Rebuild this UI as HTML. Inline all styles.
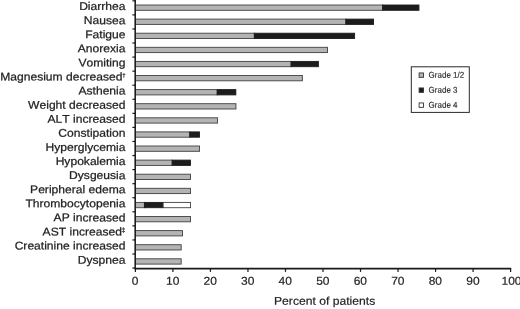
<!DOCTYPE html><html><head><meta charset="utf-8"><style>html,body{margin:0;padding:0;background:#fff}svg{display:block;will-change:transform}text{font-family:"Liberation Sans",sans-serif;fill:#222222;stroke:#222222;stroke-width:0.26px;font-kerning:none}</style></head><body>
<svg width="520" height="309" viewBox="0 0 520 309">
<rect width="520" height="309" fill="#fff"/>
<rect x="135.40" y="5.00" width="247.26" height="5.30" fill="#b4b4b4" stroke="#404040" stroke-width="0.9"/>
<rect x="382.66" y="5.00" width="36.29" height="5.30" fill="#1c1c1c" stroke="#1c1c1c" stroke-width="0.9"/>
<text transform="translate(125.50,10.05) rotate(0.03) scale(1,0.930)" font-size="12.10" text-anchor="end">Diarrhea</text>
<rect x="135.40" y="19.10" width="210.49" height="5.30" fill="#b4b4b4" stroke="#404040" stroke-width="0.9"/>
<rect x="345.89" y="19.10" width="27.66" height="5.30" fill="#1c1c1c" stroke="#1c1c1c" stroke-width="0.9"/>
<text transform="translate(125.50,24.14) rotate(0.03) scale(1,0.930)" font-size="12.10" text-anchor="end">Nausea</text>
<rect x="135.40" y="33.20" width="118.94" height="5.30" fill="#b4b4b4" stroke="#404040" stroke-width="0.9"/>
<rect x="254.34" y="33.20" width="100.27" height="5.30" fill="#1c1c1c" stroke="#1c1c1c" stroke-width="0.9"/>
<text transform="translate(125.50,38.23) rotate(0.03) scale(1,0.930)" font-size="12.10" text-anchor="end">Fatigue</text>
<rect x="135.40" y="47.30" width="192.10" height="5.30" fill="#b4b4b4" stroke="#404040" stroke-width="0.9"/>
<text transform="translate(125.50,52.32) rotate(0.03) scale(1,0.930)" font-size="12.10" text-anchor="end">Anorexia</text>
<rect x="135.40" y="61.40" width="155.71" height="5.30" fill="#b4b4b4" stroke="#404040" stroke-width="0.9"/>
<rect x="291.11" y="61.40" width="27.29" height="5.30" fill="#1c1c1c" stroke="#1c1c1c" stroke-width="0.9"/>
<text transform="translate(125.50,66.41) rotate(0.03) scale(1,0.930)" font-size="12.10" text-anchor="end">Vomiting</text>
<rect x="135.40" y="75.50" width="166.96" height="5.30" fill="#b4b4b4" stroke="#404040" stroke-width="0.9"/>
<text transform="translate(125.50,80.50) rotate(0.03) scale(1,0.930)" font-size="12.10" text-anchor="end">Magnesium decreased<tspan font-size="6" dy="-3.4" dx="-0.3" style="stroke-width:0.25px">†</tspan></text>
<rect x="135.40" y="89.60" width="81.79" height="5.30" fill="#b4b4b4" stroke="#404040" stroke-width="0.9"/>
<rect x="217.19" y="89.60" width="18.66" height="5.30" fill="#1c1c1c" stroke="#1c1c1c" stroke-width="0.9"/>
<text transform="translate(125.50,94.59) rotate(0.03) scale(1,0.930)" font-size="12.10" text-anchor="end">Asthenia</text>
<rect x="135.40" y="103.70" width="100.55" height="5.30" fill="#b4b4b4" stroke="#404040" stroke-width="0.9"/>
<text transform="translate(125.50,108.68) rotate(0.03) scale(1,0.930)" font-size="12.10" text-anchor="end">Weight decreased</text>
<rect x="135.40" y="117.80" width="82.17" height="5.30" fill="#b4b4b4" stroke="#404040" stroke-width="0.9"/>
<text transform="translate(125.50,122.77) rotate(0.03) scale(1,0.930)" font-size="12.10" text-anchor="end">ALT increased</text>
<rect x="135.40" y="131.90" width="54.40" height="5.30" fill="#b4b4b4" stroke="#404040" stroke-width="0.9"/>
<rect x="189.80" y="131.90" width="9.66" height="5.30" fill="#1c1c1c" stroke="#1c1c1c" stroke-width="0.9"/>
<text transform="translate(125.50,136.86) rotate(0.03) scale(1,0.930)" font-size="12.10" text-anchor="end">Constipation</text>
<rect x="135.40" y="146.00" width="64.16" height="5.30" fill="#b4b4b4" stroke="#404040" stroke-width="0.9"/>
<text transform="translate(125.50,150.95) rotate(0.03) scale(1,0.930)" font-size="12.10" text-anchor="end">Hyperglycemia</text>
<rect x="135.40" y="160.10" width="36.77" height="5.30" fill="#b4b4b4" stroke="#404040" stroke-width="0.9"/>
<rect x="172.17" y="160.10" width="18.28" height="5.30" fill="#1c1c1c" stroke="#1c1c1c" stroke-width="0.9"/>
<text transform="translate(125.50,165.04) rotate(0.03) scale(1,0.930)" font-size="12.10" text-anchor="end">Hypokalemia</text>
<rect x="135.40" y="174.20" width="55.15" height="5.30" fill="#b4b4b4" stroke="#404040" stroke-width="0.9"/>
<text transform="translate(125.50,179.13) rotate(0.03) scale(1,0.930)" font-size="12.10" text-anchor="end">Dysgeusia</text>
<rect x="135.40" y="188.30" width="55.15" height="5.30" fill="#b4b4b4" stroke="#404040" stroke-width="0.9"/>
<text transform="translate(125.50,193.22) rotate(0.03) scale(1,0.930)" font-size="12.10" text-anchor="end">Peripheral edema</text>
<rect x="135.40" y="202.40" width="9.00" height="5.30" fill="#b4b4b4" stroke="#404040" stroke-width="0.9"/>
<rect x="144.40" y="202.40" width="18.66" height="5.30" fill="#1c1c1c" stroke="#1c1c1c" stroke-width="0.9"/>
<rect x="163.16" y="202.40" width="27.39" height="5.30" fill="#ffffff" stroke="#404040" stroke-width="0.9"/>
<text transform="translate(125.50,207.31) rotate(0.03) scale(1,0.930)" font-size="12.10" text-anchor="end">Thrombocytopenia</text>
<rect x="135.40" y="216.50" width="55.15" height="5.30" fill="#b4b4b4" stroke="#404040" stroke-width="0.9"/>
<text transform="translate(125.50,221.40) rotate(0.03) scale(1,0.930)" font-size="12.10" text-anchor="end">AP increased</text>
<rect x="135.40" y="230.60" width="47.09" height="5.30" fill="#b4b4b4" stroke="#404040" stroke-width="0.9"/>
<text transform="translate(125.50,235.49) rotate(0.03) scale(1,0.930)" font-size="12.10" text-anchor="end">AST increased<tspan font-size="7" dy="-3.4" dx="-0.3" style="stroke-width:0.25px">‡</tspan></text>
<rect x="135.40" y="244.70" width="45.77" height="5.30" fill="#b4b4b4" stroke="#404040" stroke-width="0.9"/>
<text transform="translate(125.50,249.58) rotate(0.03) scale(1,0.930)" font-size="12.10" text-anchor="end">Creatinine increased</text>
<rect x="135.40" y="258.80" width="45.77" height="5.30" fill="#b4b4b4" stroke="#404040" stroke-width="0.9"/>
<text transform="translate(125.50,263.67) rotate(0.03) scale(1,0.930)" font-size="12.10" text-anchor="end">Dyspnea</text>
<line x1="135.20" y1="0" x2="135.20" y2="269.35" stroke="#1a1a1a" stroke-width="1.55"/>
<line x1="134.65" y1="268.60" x2="511.20" y2="268.60" stroke="#1a1a1a" stroke-width="1.7"/>
<line x1="132.40" y1="0.83" x2="135.40" y2="0.83" stroke="#1a1a1a" stroke-width="1.2"/>
<line x1="132.40" y1="14.89" x2="135.40" y2="14.89" stroke="#1a1a1a" stroke-width="1.2"/>
<line x1="132.40" y1="28.96" x2="135.40" y2="28.96" stroke="#1a1a1a" stroke-width="1.2"/>
<line x1="132.40" y1="43.02" x2="135.40" y2="43.02" stroke="#1a1a1a" stroke-width="1.2"/>
<line x1="132.40" y1="57.09" x2="135.40" y2="57.09" stroke="#1a1a1a" stroke-width="1.2"/>
<line x1="132.40" y1="71.16" x2="135.40" y2="71.16" stroke="#1a1a1a" stroke-width="1.2"/>
<line x1="132.40" y1="85.22" x2="135.40" y2="85.22" stroke="#1a1a1a" stroke-width="1.2"/>
<line x1="132.40" y1="99.28" x2="135.40" y2="99.28" stroke="#1a1a1a" stroke-width="1.2"/>
<line x1="132.40" y1="113.35" x2="135.40" y2="113.35" stroke="#1a1a1a" stroke-width="1.2"/>
<line x1="132.40" y1="127.41" x2="135.40" y2="127.41" stroke="#1a1a1a" stroke-width="1.2"/>
<line x1="132.40" y1="141.48" x2="135.40" y2="141.48" stroke="#1a1a1a" stroke-width="1.2"/>
<line x1="132.40" y1="155.55" x2="135.40" y2="155.55" stroke="#1a1a1a" stroke-width="1.2"/>
<line x1="132.40" y1="169.61" x2="135.40" y2="169.61" stroke="#1a1a1a" stroke-width="1.2"/>
<line x1="132.40" y1="183.68" x2="135.40" y2="183.68" stroke="#1a1a1a" stroke-width="1.2"/>
<line x1="132.40" y1="197.74" x2="135.40" y2="197.74" stroke="#1a1a1a" stroke-width="1.2"/>
<line x1="132.40" y1="211.81" x2="135.40" y2="211.81" stroke="#1a1a1a" stroke-width="1.2"/>
<line x1="132.40" y1="225.87" x2="135.40" y2="225.87" stroke="#1a1a1a" stroke-width="1.2"/>
<line x1="132.40" y1="239.94" x2="135.40" y2="239.94" stroke="#1a1a1a" stroke-width="1.2"/>
<line x1="132.40" y1="254.00" x2="135.40" y2="254.00" stroke="#1a1a1a" stroke-width="1.2"/>
<line x1="132.40" y1="268.06" x2="135.40" y2="268.06" stroke="#1a1a1a" stroke-width="1.2"/>
<line x1="135.40" y1="268.60" x2="135.40" y2="271.90" stroke="#1a1a1a" stroke-width="1.2"/>
<text transform="translate(135.20,284.70) rotate(0.03) scale(1,0.950)" font-size="12.00" text-anchor="middle" style="stroke-width:0.18px">0</text>
<line x1="172.92" y1="268.60" x2="172.92" y2="271.90" stroke="#1a1a1a" stroke-width="1.2"/>
<text transform="translate(172.72,284.70) rotate(0.03) scale(1,0.950)" font-size="12.00" text-anchor="middle" style="stroke-width:0.18px">10</text>
<line x1="210.44" y1="268.60" x2="210.44" y2="271.90" stroke="#1a1a1a" stroke-width="1.2"/>
<text transform="translate(210.24,284.70) rotate(0.03) scale(1,0.950)" font-size="12.00" text-anchor="middle" style="stroke-width:0.18px">20</text>
<line x1="247.96" y1="268.60" x2="247.96" y2="271.90" stroke="#1a1a1a" stroke-width="1.2"/>
<text transform="translate(247.76,284.70) rotate(0.03) scale(1,0.950)" font-size="12.00" text-anchor="middle" style="stroke-width:0.18px">30</text>
<line x1="285.48" y1="268.60" x2="285.48" y2="271.90" stroke="#1a1a1a" stroke-width="1.2"/>
<text transform="translate(285.28,284.70) rotate(0.03) scale(1,0.950)" font-size="12.00" text-anchor="middle" style="stroke-width:0.18px">40</text>
<line x1="323.00" y1="268.60" x2="323.00" y2="271.90" stroke="#1a1a1a" stroke-width="1.2"/>
<text transform="translate(322.80,284.70) rotate(0.03) scale(1,0.950)" font-size="12.00" text-anchor="middle" style="stroke-width:0.18px">50</text>
<line x1="360.52" y1="268.60" x2="360.52" y2="271.90" stroke="#1a1a1a" stroke-width="1.2"/>
<text transform="translate(360.32,284.70) rotate(0.03) scale(1,0.950)" font-size="12.00" text-anchor="middle" style="stroke-width:0.18px">60</text>
<line x1="398.04" y1="268.60" x2="398.04" y2="271.90" stroke="#1a1a1a" stroke-width="1.2"/>
<text transform="translate(397.84,284.70) rotate(0.03) scale(1,0.950)" font-size="12.00" text-anchor="middle" style="stroke-width:0.18px">70</text>
<line x1="435.56" y1="268.60" x2="435.56" y2="271.90" stroke="#1a1a1a" stroke-width="1.2"/>
<text transform="translate(435.36,284.70) rotate(0.03) scale(1,0.950)" font-size="12.00" text-anchor="middle" style="stroke-width:0.18px">80</text>
<line x1="473.08" y1="268.60" x2="473.08" y2="271.90" stroke="#1a1a1a" stroke-width="1.2"/>
<text transform="translate(472.88,284.70) rotate(0.03) scale(1,0.950)" font-size="12.00" text-anchor="middle" style="stroke-width:0.18px">90</text>
<line x1="510.60" y1="268.60" x2="510.60" y2="271.90" stroke="#1a1a1a" stroke-width="1.2"/>
<text transform="translate(511.50,284.70) rotate(0.03) scale(1,0.950)" font-size="12.00" text-anchor="middle" style="stroke-width:0.18px">100</text>
<text transform="translate(324.6,304.8) rotate(0.03) scale(1,0.93)" font-size="12.15" text-anchor="middle" style="stroke-width:0.2px">Percent of patients</text>
<rect x="411.3" y="66.8" width="58" height="45.6" fill="#fff" stroke="#2a2a2a" stroke-width="1"/>
<rect x="419.1" y="72.95" width="4.4" height="4.4" fill="#b4b4b4" stroke="#333" stroke-width="0.9"/>
<text transform="translate(428.6,77.70) rotate(0.03) scale(0.95,1)" font-size="8.45" style="stroke-width:0.1px">Grade 1/2</text>
<rect x="419.1" y="87.95" width="4.4" height="4.4" fill="#1c1c1c" stroke="#333" stroke-width="0.9"/>
<text transform="translate(428.6,92.70) rotate(0.03) scale(0.95,1)" font-size="8.45" style="stroke-width:0.1px">Grade 3</text>
<rect x="419.1" y="102.95" width="4.4" height="4.4" fill="#ffffff" stroke="#333" stroke-width="0.9"/>
<text transform="translate(428.6,107.70) rotate(0.03) scale(0.95,1)" font-size="8.45" style="stroke-width:0.1px">Grade 4</text>
</svg></body></html>
